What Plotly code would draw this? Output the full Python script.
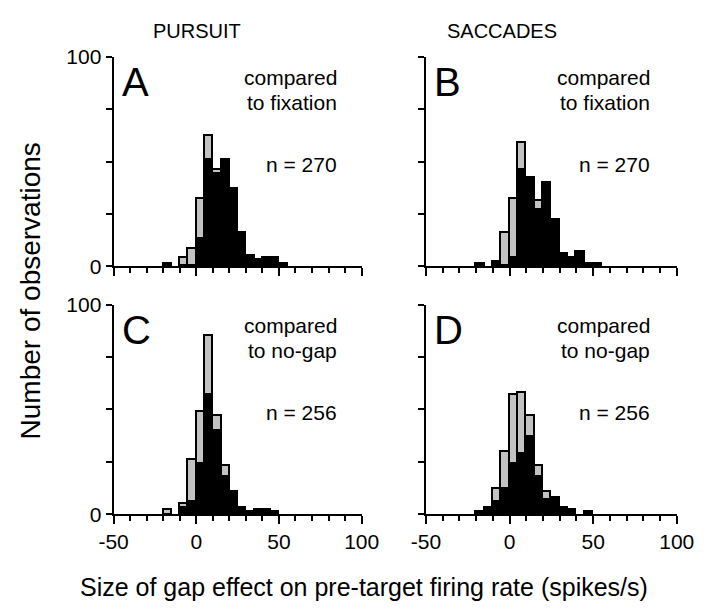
import plotly.graph_objects as go

# Bin left edges (spikes/s), bin width 5
bin_starts = [-20, -15, -10, -5, 0, 5, 10, 15, 20, 25, 30, 35, 40, 45, 50]

# Black = significant, gray = not significant (stacked)
a_black = [1, 0, 0, 0, 13, 51, 44, 51, 37, 16, 5, 3, 4, 4, 1]
a_gray  = [0, 0, 4, 8, 19, 11, 2, 0, 0, 0, 0, 0, 0, 0, 0]

b_black = [1, 0, 1, 0, 4, 46, 42, 27, 40, 22, 6, 4, 7, 1, 1]
b_gray  = [0, 0, 1, 16, 28, 13, 0, 4, 0, 0, 0, 0, 0, 0, 0]

c_black = [0, 0, 3, 6, 24, 57, 40, 18, 11, 3, 1, 2, 2, 1, 0]
c_gray  = [2, 0, 2, 20, 25, 28, 7, 5, 0, 0, 0, 0, 0, 0, 0]

d_black = [1, 2, 6, 12, 24, 29, 37, 18, 7, 8, 3, 2, 0, 1, 0]
d_gray  = [0, 1, 6, 18, 33, 29, 10, 5, 4, 0, 0, 0, 0, 0, 0]

letters = ["A", "B", "C", "D"]
labels1 = ["compared", "compared", "compared", "compared"]
labels2 = ["to fixation", "to fixation", "to no-gap", "to no-gap"]
n_labels = ["n = 270", "n = 270", "n = 256", "n = 256"]
col_titles = ["PURSUIT", "SACCADES"]
x_ticks = [-50, 0, 50, 100]
x_ticktext = ["-50", "0", "50", "100"]
y_ticks = [0, 25, 50, 75, 100]
y_ticktext = ["0", "", "", "", "100"]

W, H = 720, 616
FONT = "Liberation Sans, Arial, Helvetica, sans-serif"


def px(x):
    return x / W


def py(y):
    return 1 - y / H


def nz(vals):
    return [v if v else None for v in vals]


blacks = [a_black, b_black, c_black, d_black]
grays = [a_gray, b_gray, c_gray, d_gray]

fig = go.Figure()
for i in range(4):
    sfx = "" if i == 0 else str(i + 1)
    for vals, col in ((blacks[i], "black"), (grays[i], "#c2c2c2")):
        fig.add_trace(go.Bar(
            x=bin_starts, y=nz(vals), width=5, offset=0,
            marker=dict(color=col, line=dict(color="black", width=1.8)),
            xaxis="x" + sfx, yaxis="y" + sfx, showlegend=False,
            hoverinfo="skip",
        ))

# geometry (pixels)
x_dom = [(103.3, 363.3), (430.7, 693.5)]
y_dom = [(264.0, 46.7), (521.7, 304.0)]

layout = dict(
    width=W, height=H, margin=dict(l=0, r=0, t=0, b=0),
    paper_bgcolor="white", plot_bgcolor="white",
    barmode="stack", bargap=0,
    font=dict(family=FONT, color="black", size=21),
    showlegend=False,
)

for i in range(4):
    sfx = "" if i == 0 else str(i + 1)
    col = i % 2
    row = i // 2
    xd = x_dom[col]
    yd = y_dom[row]
    layout["xaxis" + sfx] = dict(
        domain=[px(xd[0]), px(xd[1])], range=[-50, 100],
        anchor="y" + sfx, showline=True, linecolor="black", linewidth=2,
        ticks="outside", tickvals=x_ticks, ticktext=x_ticktext, ticklen=8, tickwidth=2,
        tickcolor="black", showticklabels=(row == 1), tickfont=dict(size=21),
        minor=dict(dtick=10, tick0=0, ticks="outside", ticklen=5, tickwidth=2, tickcolor="black"),
        showgrid=False, zeroline=False, fixedrange=True,
    )
    layout["yaxis" + sfx] = dict(
        domain=[py(yd[0]), py(yd[1])], range=[0, 100],
        anchor="x" + sfx, showline=True, linecolor="black", linewidth=2,
        ticks="outside", tickvals=y_ticks, ticktext=y_ticktext, ticklen=6, tickwidth=2,
        tickcolor="black", showticklabels=(col == 0), tickfont=dict(size=21),
        showgrid=False, zeroline=False, fixedrange=True,
    )

ann = []
letter_pos = [(110, 73), (437, 73), (110, 330), (437, 330)]
text_right = [340, 668, 340, 668]
text_top = [68, 68, 326, 326]
for i in range(4):
    lx, ly = letter_pos[i]
    ann.append(dict(text=letters[i], x=px(lx), y=py(ly), xref="paper", yref="paper",
                    xanchor="left", yanchor="middle", showarrow=False,
                    font=dict(size=40, family=FONT)))
    ann.append(dict(text=labels1[i], x=px(text_right[i]), y=py(text_top[i]), xref="paper",
                    yref="paper", xanchor="right", yanchor="middle", showarrow=False,
                    font=dict(size=21, family=FONT)))
    ann.append(dict(text=labels2[i], x=px(text_right[i]), y=py(text_top[i] + 26), xref="paper",
                    yref="paper", xanchor="right", yanchor="middle", showarrow=False,
                    font=dict(size=21, family=FONT)))
    ann.append(dict(text=n_labels[i], x=px(text_right[i]), y=py(text_top[i] + 90), xref="paper",
                    yref="paper", xanchor="right", yanchor="middle", showarrow=False,
                    font=dict(size=21, family=FONT)))

ann.append(dict(text=col_titles[0], x=px(191), y=py(20), xref="paper", yref="paper",
                xanchor="center", yanchor="middle", showarrow=False, font=dict(size=20, family=FONT)))
ann.append(dict(text=col_titles[1], x=px(510), y=py(20), xref="paper", yref="paper",
                xanchor="center", yanchor="middle", showarrow=False, font=dict(size=20, family=FONT)))
ann.append(dict(text="Number of observations", x=px(16), y=py(290), xref="paper", yref="paper",
                xanchor="center", yanchor="middle", textangle=-90, showarrow=False,
                font=dict(size=28, family=FONT)))
ann.append(dict(text="Size of gap effect on pre-target firing rate (spikes/s)", x=px(366),
                y=py(597), xref="paper", yref="paper", xanchor="center", yanchor="middle",
                showarrow=False, font=dict(size=25, family=FONT)))
layout["annotations"] = ann

fig.update_layout(**layout)
fig.write_html("out.html", config={"displayModeBar": False},
               post_script="document.body.style.margin='0';document.body.style.overflow='hidden';")
